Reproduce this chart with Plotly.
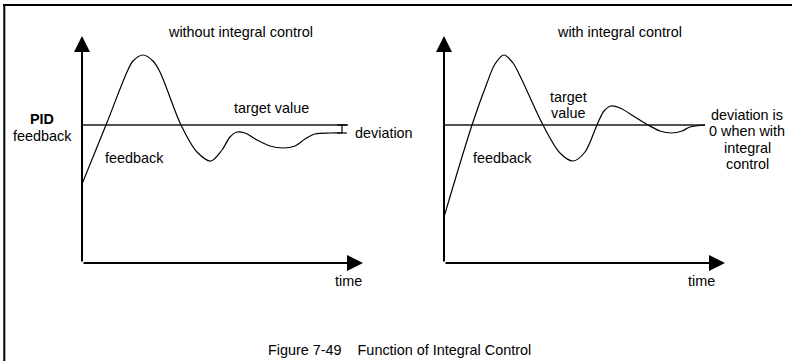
import plotly.graph_objects as go

W, H = 792, 361
FONT = "Liberation Sans, Arial, sans-serif"
FS = 14.4

# Feedback response without integral control (time, feedback)
time_no_int = [0, 24, 45, 51, 61, 71, 78, 99, 115, 129, 140, 148, 155, 163,
               175, 188, 201, 213, 223, 233, 248, 260]
fb_no_int = [79, 138, 191, 202, 208, 202, 191, 138, 111, 102, 113, 126, 131,
             130, 123, 117, 115, 117, 124, 129, 130, 130]

# Feedback response with integral control
time_int = [0, 28, 43, 51, 60, 69, 77, 99, 116, 129, 141, 153, 160, 167, 176,
            191, 204, 216, 228, 238, 246, 261]
fb_int = [46, 138, 180, 199, 208, 200, 185, 138, 110, 102, 111, 138, 152, 157,
          155, 146, 138, 132, 130, 132, 136, 138]

target_value = 138
target_end = [266, 261]          # where each target line stops
deviation_at = 260               # time of the deviation bracket (left panel)
x_max, y_max = 281, 227          # axis extents (arrow tips)

panels = [
    dict(t=time_no_int, v=fb_no_int, x0=82, title="without integral control"),
    dict(t=time_int, v=fb_int, x0=444, title="with integral control"),
]
y0_px, ytop_px = 263, 36


def px(x):
    return x / W


def py(y):
    return 1 - y / H


fig = go.Figure()
annotations = []
layout_axes = {}

for i, p in enumerate(panels):
    n = "" if i == 0 else str(i + 1)
    xa, ya = "x" + n, "y" + n
    layout_axes["xaxis" + n] = dict(
        domain=[px(p["x0"]), px(p["x0"] + x_max)], range=[0, x_max],
        visible=False, fixedrange=True, anchor=ya)
    layout_axes["yaxis" + n] = dict(
        domain=[py(y0_px), py(ytop_px)], range=[0, y_max],
        visible=False, fixedrange=True, anchor=xa)

    # target value line
    fig.add_trace(go.Scatter(
        x=[0, target_end[i]], y=[target_value, target_value], xaxis=xa, yaxis=ya,
        mode="lines", line=dict(color="#1a1a1a", width=1.6), hoverinfo="skip",
        showlegend=False, cliponaxis=False))
    # feedback curve
    fig.add_trace(go.Scatter(
        x=p["t"], y=p["v"], xaxis=xa, yaxis=ya, mode="lines",
        line=dict(color="black", width=1.2, shape="spline", smoothing=0.9),
        hoverinfo="skip", showlegend=False, cliponaxis=False))

    # axes with arrow heads
    for (tx, ty) in [(x_max, 0), (0, y_max)]:
        annotations.append(dict(
            x=tx, y=ty, ax=0, ay=0, xref=xa, yref=ya, axref=xa, ayref=ya,
            text="", showarrow=True, arrowhead=2, arrowsize=1.6,
            arrowwidth=2, arrowcolor="black"))

# deviation bracket on the left panel
dev_lo = fb_no_int[-1]
fig.add_trace(go.Scatter(
    x=[deviation_at, deviation_at], y=[dev_lo, target_value], mode="lines+markers",
    marker=dict(symbol="line-ew", size=7, line=dict(color="black", width=1.2)),
    line=dict(color="black", width=1.2), hoverinfo="skip", showlegend=False,
    cliponaxis=False))


def label(text, x, y, size=FS, **kw):
    annotations.append(dict(
        text=text, x=px(x), y=py(y), xref="paper", yref="paper",
        showarrow=False, xanchor="center", yanchor="middle",
        font=dict(family=FONT, size=size, color="black"), **kw))


label("without integral control", 240, 32)
label("with integral control", 619, 32)
label("<b>PID</b>", 42, 119)
label("feedback", 42, 136)
label("target value", 271, 108)
label("deviation", 384, 133)
label("feedback", 134, 158)
label("feedback", 502, 158)
label("target", 568, 97.5)
label("value", 568, 113)
for k, line in enumerate(["deviation is", "0 when with", "integral", "control"]):
    label(line, 747, 115 + 16.3 * k)
label("time", 348, 281)
label("time", 701, 281)
label("Figure 7-49\u00a0\u00a0\u00a0\u00a0Function of Integral Control", 399, 350)

# frame lines along the top and left edges
shapes = [
    dict(type="line", xref="paper", yref="paper", x0=px(3), x1=1.0,
         y0=py(5), y1=py(5), line=dict(color="black", width=2)),
    dict(type="line", xref="paper", yref="paper", x0=px(4.3), x1=px(4.3),
         y0=py(4), y1=0, line=dict(color="black", width=2)),
]

fig.update_layout(
    width=W, height=H, margin=dict(l=0, r=0, t=0, b=0),
    paper_bgcolor="white", plot_bgcolor="white",
    annotations=annotations, shapes=shapes, showlegend=False,
    **layout_axes)

fig.write_html("out.html", config={"displayModeBar": False})
